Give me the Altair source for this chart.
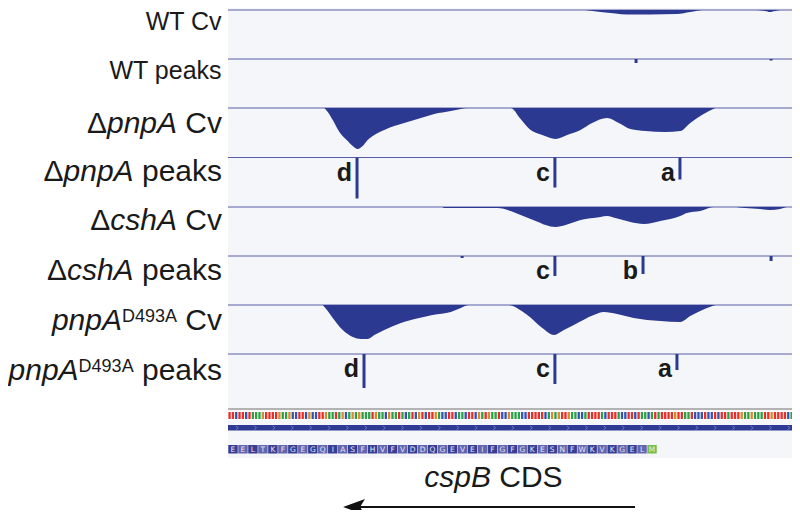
import altair as alt
import pandas as pd

FONT = "Liberation Sans"
BLUE = "#2c3990"
SEP = "#5a5ea6"
BG = "#f5f6fa"

# ---- genome window and layout -------------------------------------------
WINDOW = [0, 172]            # nt shown in the browser panel
PANEL_PX = [220, 792]        # chart-pixel span of the panel (x); page edge clips the last px
PAGE_ROWS = [8, 510]         # y values are page rows
TRACK_TOPS = [10, 59, 108, 157.5, 207, 256, 305, 354]
LABEL_BASELINES = [30, 79, 133, 181, 230, 280, 330, 380]
LABEL_RIGHT = 214            # chart px

# ---- coverage profiles (position nt, depth) -------------------------------
cov_wt = [(107.4, 0), (112, 2), (116.5, 3.5), (120, 4.5), (127, 4.5), (135, 4), (139, 2), (143, 0),
          (158.5, 0), (161.5, 1), (163, 2), (164.5, 1), (166, 0)]
cov_pnpA = [(29, 0), (30, 4), (31.5, 12), (33.5, 24), (36, 33), (37.5, 38), (39, 41), (40.5, 38),
            (42, 32), (44, 27), (47, 22), (50, 18), (53, 15), (58, 10), (62, 6), (67, 3), (70, 1), (72, 0),
            (85, 0), (88, 11), (91, 22), (94.5, 27), (98.5, 31), (102, 27), (106, 22), (109.5, 15),
            (114, 10), (117.5, 15), (121, 21), (125.5, 23), (131.5, 24), (136, 23), (139, 15),
            (142.5, 7), (146.5, 0)]
cov_cshA = [(64.5, 0), (65, 1), (81, 1), (85, 4), (88, 8), (92.5, 14), (95.5, 18), (98.5, 20),
            (101.5, 18), (106, 13), (112, 10), (114, 9), (116.5, 11), (121, 15), (125, 17), (130, 14),
            (136, 9), (138, 6), (142, 4), (146, 0),
            (152, 0), (155.5, 1), (160, 2), (163, 3), (166, 2), (168, 0)]
cov_d493a = [(28.5, 0), (30, 6), (31.5, 13), (34.5, 25), (37.5, 32), (40, 34), (42, 34), (44, 30),
             (47, 25), (52, 18), (57.5, 13), (61.5, 10), (67, 7), (70, 3), (72.5, 0),
             (84, 0), (90, 10), (94.5, 23), (98, 30), (101, 25), (104, 20), (110, 10), (113, 7),
             (117, 9), (122, 13), (130, 16), (136, 17), (139, 11), (144, 3), (146.5, 0)]

# ---- peaks (position nt, height, letter) ----------------------------------
peaks_wt = [(122.7, 4, ""), (163.3, 1.5, "")]
peaks_pnpA = [(38.8, 41, "d"), (98.3, 30, "c"), (135.9, 22, "a")]
peaks_cshA = [(70.4, 2, ""), (98.3, 20, "c"), (124.8, 18, "b"), (163.3, 5, "")]
peaks_d493a = [(40.9, 34, "d"), (98.3, 30, "c"), (135.0, 16, "a")]

# ---- sequence track --------------------------------------------------------
UPSTREAM = "TTTGAAAACAATTTCTTCAAATAAGAGGAGGGATTAACAAAAT"
CDS = ("ATGTTAGAAGGTAAAGTAAAATGGTTCAACTCTGAAAAAGGTTTCGGATTCATCGAAGTTGAAGGTCAAGAC"
       "GATGTATTCGTTCATTTCTCTGCTATTCAAGGCGAAGGCTTCAAAACTTTAGAAGAA")
AA_SHOWN = "EELTKFGEGQIASFHVFVDDQGEVEIFGFGKESNFWKVKGELM"
NUC_COLORS = {"A": "#2ca048", "C": "#3553b0", "G": "#d9892b", "T": "#e5302a"}
AA_COLORS = ["#3a3e92", "#6466ad"]
START_COLOR = "#72c04c"
CHEVRON_START, CHEVRON_STEP = 2.7, 5.53

# ---- annotation -------------------------------------------------------------
ARROW_NT = [122.4, 36.5]
ARROW_HEAD_NT = 37.9
ARROW_ROW = 507
CDS_TEXT_NT = 79.8
CDS_TEXT_ROW = 487
CDS_SIZE = 30

LABELS = [
    [("WT Cv", "normal", 25, 0)],
    [("WT peaks", "normal", 25, 0)],
    [("Δ", "normal", 30, 0), ("pnpA", "italic", 30, 0), (" ", "normal", 30, 0), ("Cv", "normal", 30, 0)],
    [("Δ", "normal", 30, 0), ("pnpA", "italic", 30, 0), (" ", "normal", 30, 0), ("peaks", "normal", 30, 0)],
    [("Δ", "normal", 30, 0), ("cshA", "italic", 30, 0), (" ", "normal", 30, 0), ("Cv", "normal", 30, 0)],
    [("Δ", "normal", 30, 0), ("cshA", "italic", 30, 0), (" ", "normal", 30, 0), ("peaks", "normal", 30, 0)],
    [("pnpA", "italic", 30, 0), ("D493A", "normal", 18, 8.5), (" ", "normal", 30, 0), ("Cv", "normal", 30, 0)],
    [("pnpA", "italic", 30, 0), ("D493A", "normal", 18, 8.5), (" ", "normal", 30, 0), ("peaks", "normal", 30, 0)],
]

ADV = {' ': 278, 'a': 556, 'c': 500, 'e': 556, 'h': 556, 'k': 500, 'n': 556, 'p': 556, 's': 500,
       'v': 500, 'A': 667, 'B': 667, 'C': 722, 'D': 722, 'S': 667, 'T': 611, 'W': 944,
       '3': 556, '4': 556, '9': 556, 'Δ': 668}


def width(s, size):
    return sum(ADV.get(ch, 556) for ch in s) / 1000 * size


def revcomp(s):
    comp = {"A": "T", "T": "A", "G": "C", "C": "G"}
    return "".join(comp[c] for c in reversed(s))


xs = alt.Scale(domain=WINDOW, range=PANEL_PX)
ys = alt.Scale(domain=PAGE_ROWS, range=[0, PAGE_ROWS[1] - PAGE_ROWS[0]])
X = lambda f: alt.X(f, type="quantitative", scale=xs, axis=None)
X2 = lambda f: alt.X2(f)
Y = lambda f: alt.Y(f, type="quantitative", scale=ys, axis=None)
Y2 = lambda f: alt.Y2(f)

# coverage frame
cov_rows = []
for idx, prof in [(0, cov_wt), (2, cov_pnpA), (4, cov_cshA), (6, cov_d493a)]:
    for p, d in prof:
        cov_rows.append({"track": idx, "pos": p, "top": TRACK_TOPS[idx], "y": TRACK_TOPS[idx] + d})
cov = pd.DataFrame(cov_rows)

peak_rows = []
for idx, pk in [(1, peaks_wt), (3, peaks_pnpA), (5, peaks_cshA), (7, peaks_d493a)]:
    for p, h, lab in pk:
        peak_rows.append({"pos": p, "top": TRACK_TOPS[idx], "y": TRACK_TOPS[idx] + h,
                          "lab": lab, "ly": TRACK_TOPS[idx] + 23})
peaks = pd.DataFrame(peak_rows)

frame = pd.DataFrame({"x": [WINDOW[0]], "x2": [WINDOW[1]]})

layers = []
# panel background
layers.append(alt.Chart(frame).mark_rect(color=BG).encode(
    x=X("x"), x2=X2("x2"), y=Y("a"), y2=Y2("b")
).transform_calculate(a="8", b="458"))
# track separators
sep = pd.DataFrame({"top": TRACK_TOPS, "x": WINDOW[0], "x2": WINDOW[1]})
layers.append(alt.Chart(sep).mark_rule(color=SEP, strokeWidth=1).encode(
    x=X("x"), x2=X2("x2"), y=Y("top")))
# coverage
layers.append(alt.Chart(cov).mark_area(color=BLUE, interpolate="monotone").encode(
    x=X("pos"), y=Y("y"), y2=Y2("top"), detail="track:N"))
# peaks
layers.append(alt.Chart(peaks).mark_rule(color=BLUE, strokeWidth=3).encode(
    x=X("pos"), y=Y("top"), y2=Y2("y")))
layers.append(alt.Chart(peaks).mark_text(font=FONT, fontWeight="bold", fontSize=25, align="right",
                                         baseline="alphabetic", dx=-5, color="#1a1a1a").encode(
    x=X("pos"), y=Y("ly"), text="lab:N"))

# track labels (mixed styles)
lab_rows = []
for i, pieces in enumerate(LABELS):
    total = sum(width(t, s) for t, _, s, _ in pieces)
    cx = LABEL_RIGHT - total
    for t, style, s, rise in pieces:
        if t.strip():
            lab_rows.append({"text": t, "x": cx, "y": LABEL_BASELINES[i] - rise,
                             "style": style, "size": s})
        cx += width(t, s)
labs = pd.DataFrame(lab_rows)
for style in ["normal", "italic"]:
    sub = labs[labs["style"] == style]
    layers.append(alt.Chart(sub).mark_text(font=FONT, fontStyle=style, align="left",
                                           baseline="alphabetic", color="#1a1a1a").encode(
        x=alt.X("x:Q", scale=None, axis=None), y=Y("y"), text="text:N",
        size=alt.Size("size:Q", scale=None, legend=None)))

# sequence track
seq = revcomp(UPSTREAM + CDS)
nuc = pd.DataFrame({"i": list(range(len(seq))), "b": list(seq)})
nuc["x"] = nuc["i"] + 0.12
nuc["x2"] = nuc["i"] + 0.82
nuc["col"] = nuc["b"].map(NUC_COLORS)
layers.append(alt.Chart(frame).mark_rule(color="#b3b3b3", strokeWidth=2).encode(
    x=X("x"), x2=X2("x2"), y=Y("a")).transform_calculate(a="409"))
layers.append(alt.Chart(frame).mark_rect(color="white").encode(
    x=X("x"), x2=X2("x2"), y=Y("a"), y2=Y2("b")).transform_calculate(a="411", b="420"))
layers.append(alt.Chart(nuc).mark_rect().encode(
    x=X("x"), x2=X2("x2"), y=Y("a"), y2=Y2("b"),
    color=alt.Color("col:N", scale=None)).transform_calculate(a="412", b="419"))
# gene bar with chevrons
layers.append(alt.Chart(frame).mark_rect(color="#2e3a94").encode(
    x=X("x"), x2=X2("x2"), y=Y("a"), y2=Y2("b")).transform_calculate(a="425", b="430.5"))
chev = []
p = CHEVRON_START
while p < WINDOW[1]:
    chev.append(p)
    p += CHEVRON_STEP
chev_df = pd.DataFrame({"pos": chev, "y": 427.75})
layers.append(alt.Chart(chev_df).mark_point(shape="M-0.5,-1L0.5,0L-0.5,1", filled=False, size=16,
                                            strokeWidth=1, color="#9aa0d8").encode(
    x=X("pos"), y=Y("y")))
# amino acids
aa = pd.DataFrame({"k": list(range(len(AA_SHOWN))), "aa": list(AA_SHOWN)})
aa["x"] = aa["k"] * 3 + 0.08
aa["x2"] = aa["k"] * 3 + 2.92
aa["xm"] = aa["k"] * 3 + 1.5
aa["col"] = [START_COLOR if a == "M" else AA_COLORS[k % 2] for k, a in zip(aa["k"], aa["aa"])]
layers.append(alt.Chart(aa).mark_rect().encode(
    x=X("x"), x2=X2("x2"), y=Y("a"), y2=Y2("b"),
    color=alt.Color("col:N", scale=None)
).transform_calculate(a="445", b="453.5"))
layers.append(alt.Chart(aa).mark_text(font="DejaVu Sans", fontSize=7.5, color="#e6e7f7",
                                      baseline="middle").encode(
    x=X("xm"), y=Y("a"), text="aa:N").transform_calculate(a="449.5"))

# CDS annotation
arrow = pd.DataFrame({"x": [ARROW_NT[0]], "x2": [ARROW_NT[1]], "y": [ARROW_ROW]})
layers.append(alt.Chart(arrow).mark_rule(color="#111111", strokeWidth=2).encode(
    x=X("x"), x2=X2("x2"), y=Y("y")))
head = pd.DataFrame({"x": [ARROW_HEAD_NT], "y": [ARROW_ROW]})
layers.append(alt.Chart(head).mark_point(shape="M-1,0L1,-0.72L0.55,0L1,0.72Z", filled=True, size=480,
                                         color="#111111", opacity=1).encode(x=X("x"), y=Y("y")))
cds_txt = pd.DataFrame({"x": [CDS_TEXT_NT], "y": [CDS_TEXT_ROW]})
w1 = width("cspB", CDS_SIZE)
w2 = width(" CDS", CDS_SIZE)
layers.append(alt.Chart(cds_txt).mark_text(font=FONT, fontStyle="italic", fontSize=CDS_SIZE, align="left",
                                           baseline="alphabetic", dx=-(w1 + w2) / 2, color="#1a1a1a").encode(
    x=X("x"), y=Y("y"), text=alt.value("cspB")))
layers.append(alt.Chart(cds_txt).mark_text(font=FONT, fontSize=CDS_SIZE, align="left",
                                           baseline="alphabetic",
                                           dx=-(w1 + w2) / 2 + w1 + width(" ", CDS_SIZE),
                                           color="#1a1a1a").encode(
    x=X("x"), y=Y("y"), text=alt.value("CDS")))

chart = alt.layer(*layers).properties(
    width=784, height=502, autosize=alt.AutoSizeParams(type="none"), padding=0
).configure_view(stroke=None)

chart.save("out.html", embed_options={"renderer": "svg", "actions": False})
